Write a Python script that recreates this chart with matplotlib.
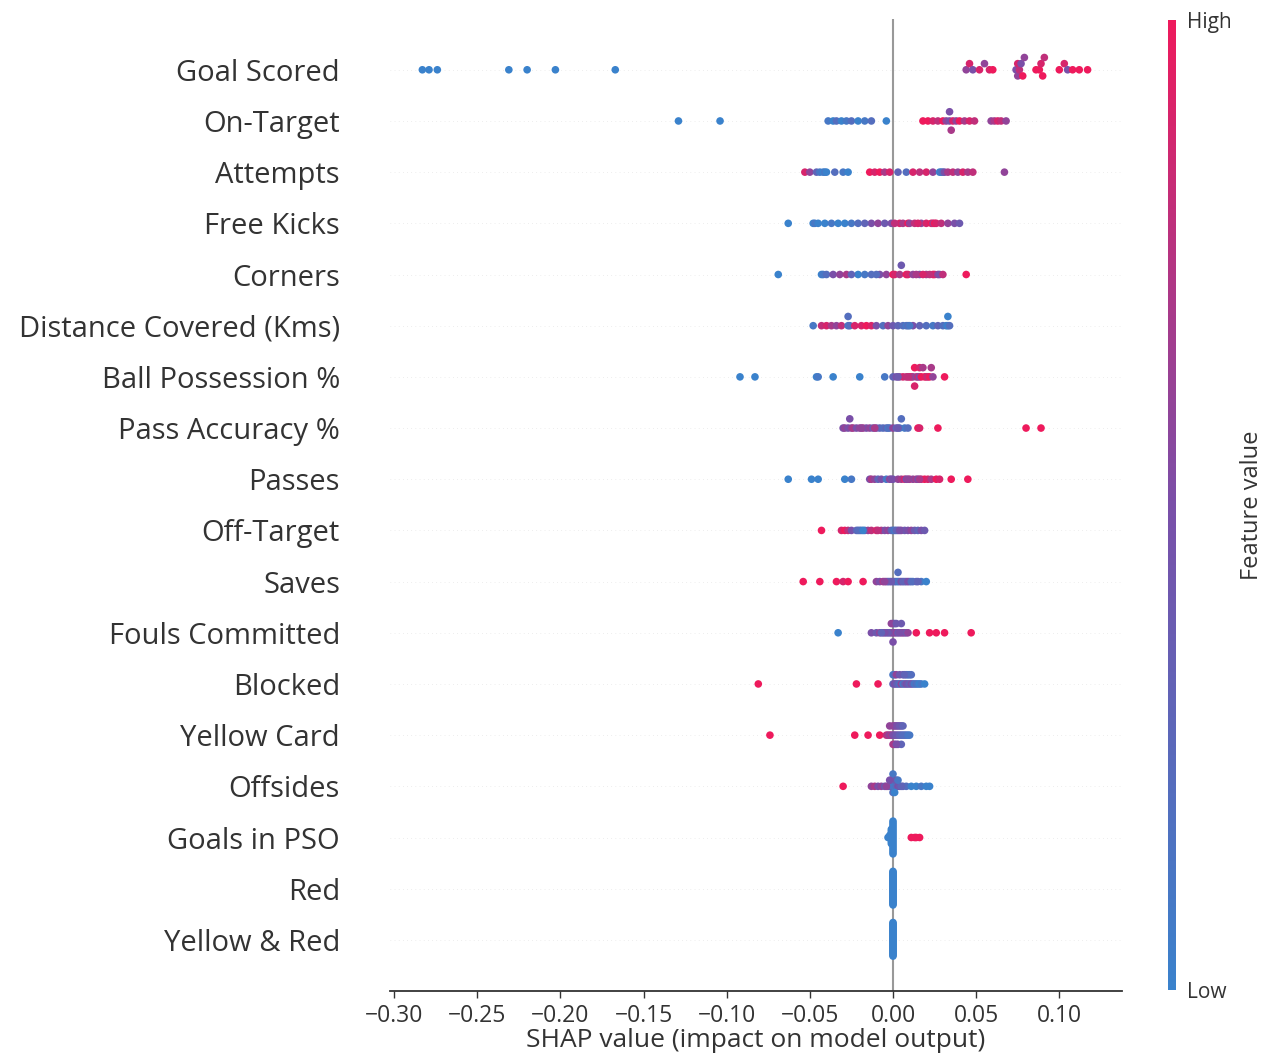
import numpy as np
import matplotlib
matplotlib.use("Agg")
import matplotlib.pyplot as plt
from matplotlib.colors import LinearSegmentedColormap
from matplotlib.cm import ScalarMappable
from matplotlib.colors import Normalize

# ---------------- data ----------------
features = ["Goal Scored", "On-Target", "Attempts", "Free Kicks", "Corners",
            "Distance Covered (Kms)", "Ball Possession %", "Pass Accuracy %",
            "Passes", "Off-Target", "Saves", "Fouls Committed", "Blocked",
            "Yellow Card", "Offsides", "Goals in PSO", "Red", "Yellow & Red"]

goal_scored_shap = [-0.283, -0.279, -0.274, -0.231, -0.220, -0.203, -0.167,
                    0.044, 0.046, 0.048, 0.052, 0.055, 0.058, 0.060,
                    0.074, 0.075, 0.075, 0.076, 0.077, 0.078, 0.079,
                    0.086, 0.088, 0.089, 0.090, 0.091,
                    0.100, 0.103, 0.105, 0.108, 0.112, 0.117]
goal_scored_val = [0, 0, 0, 0, 0, 0, 0,
                   0.6, 0.9, 0.5, 0.9, 0.6, 0.9, 1,
                   0.5, 0.9, 0.6, 0.8, 0.5, 1, 0.6,
                   1, 1, 0.9, 1, 0.8,
                   1, 0.9, 0.5, 1, 1, 1]

on_target_shap = [-0.129, -0.104,
                  -0.039, -0.036, -0.034, -0.031, -0.028, -0.025, -0.021, -0.017, -0.013, -0.004,
                  0.018, 0.021, 0.024, 0.027, 0.030, 0.032, 0.034, 0.036, 0.038, 0.040, 0.043, 0.046, 0.049,
                  0.059, 0.061, 0.063, 0.065, 0.068, 0.034, 0.035]
on_target_val = [0, 0,
                 0.1, 0, 0.2, 0, 0.1, 0.2, 0, 0.1, 0.2, 0,
                 1, 1, 0.9, 0.8, 1, 0.6, 0.5, 0.9, 0.6, 1, 0.7, 0.9, 0.8,
                 0.6, 0.7, 0.9, 0.8, 0.6, 0.5, 0.7]

attempts_shap = [-0.053, -0.050, -0.046, -0.044, -0.042, -0.041, -0.040, -0.035, -0.030, -0.027,
                 -0.014, -0.011, -0.008, -0.005, -0.002, 0.003, 0.008,
                 0.020, 0.024, 0.028, 0.029, 0.030, 0.031, 0.033, 0.036, 0.039, 0.042, 0.045, 0.048,
                 0.067, 0.012, 0.016]
attempts_val = [0.9, 0.6, 0.3, 0.1, 0, 0.1, 0, 0.2, 0.1, 0,
                1, 0.9, 1, 0.7, 0.9, 0.3, 0.2,
                0.9, 0.6, 0, 0.1, 0.2, 0.5, 0.7, 0.8, 0.6, 0.9, 0.7, 0.8,
                0.6, 0.9, 0.8]

free_kicks_shap = [-0.063, -0.048, -0.047, -0.045, -0.041, -0.037, -0.033, -0.029, -0.025, -0.021,
                   -0.013, -0.009, -0.005, -0.001,
                   0.004, 0.006, 0.009, 0.010, 0.013, 0.017, 0.020, 0.023, 0.024, 0.025, 0.026,
                   0.029, 0.033, 0.037, 0.040, -0.017, 0.001, 0.015]
free_kicks_val = [0, 0, 0.1, 0, 0, 0.1, 0, 0, 0.1, 0.2,
                  0.5, 0.6, 0.4, 0.5,
                  0.9, 0.7, 1, 0.6, 0.8, 0.6, 0.9, 1, 0.7, 1, 0.9,
                  0.8, 0.6, 0.5, 0.4, 0.3, 0.8, 0.9]

corners_shap = [-0.069, -0.043, -0.042, -0.040, -0.036, -0.032, -0.028,
                -0.021, -0.017, -0.013,
                -0.008, -0.004, 0.000, 0.001, 0.004, 0.008, 0.009,
                0.012, 0.016, 0.020,
                0.024, 0.025, 0.027, 0.028, 0.030, 0.044,
                -0.025, 0.005, 0.014, 0.022, -0.010, 0.018]
corners_val = [0, 0, 0.1, 0.2, 0.5, 0.6, 0.7,
               0, 0.1, 0.2,
               0.5, 0.6, 1, 0.9, 0.7, 1, 0.9,
               0.6, 0.5, 0.7,
               1, 0.9, 0.6, 0.5, 0.8, 1,
               0.3, 0.4, 0.7, 0.8, 0.2, 0.9]

distance_shap = [-0.048, -0.043, -0.040, -0.037, -0.034, -0.031, -0.027, -0.026, -0.023, -0.019,
                 -0.016, -0.013, -0.010, -0.006, -0.003,
                 0.000, 0.003, 0.006, 0.008, 0.009, 0.012, 0.016, 0.020, 0.024, 0.027, 0.030,
                 0.032, 0.033, 0.034, -0.027, 0.010, 0.033]
distance_val = [0.1, 0.8, 0.9, 0.7, 0.6, 0.8, 0.1, 0.2, 0.9, 0.9,
                1, 0.9, 0.5, 0.2, 0.6,
                0.4, 0.3, 0.2, 0.1, 0.2, 0.5, 0.3, 0.2, 0.1, 0.3, 0.2,
                0.1, 0.0, 0.2, 0.2, 0.1, 0.0]

possession_shap = [-0.092, -0.083, -0.046, -0.045, -0.036, -0.020, -0.005,
                   0.000, 0.002, 0.004, 0.006, 0.008, 0.010, 0.011, 0.012, 0.013, 0.014, 0.015,
                   0.016, 0.016, 0.017, 0.018, 0.019, 0.020, 0.021, 0.022, 0.023, 0.024,
                   0.031, 0.009, 0.003, 0.013]
possession_val = [0, 0, 0, 0.1, 0, 0, 0.1,
                  0.3, 0.5, 0.6, 0.9, 0.8, 1, 0.9, 0.7, 1, 0.6, 0.8,
                  0.5, 0.9, 1, 0.7, 1, 0.9, 0.8, 1, 0.7, 0.6,
                  1, 0.8, 0.4, 0.9]

pass_acc_shap = [-0.030, -0.029, -0.027, -0.025, -0.024, -0.022, -0.020, -0.018, -0.016, -0.014,
                 -0.012, -0.010, -0.008, -0.006, -0.004, -0.003, -0.002,
                 0.000, 0.002, 0.004, 0.005, 0.007, 0.009, 0.015, 0.016, 0.027,
                 0.080, 0.089, -0.019, -0.011, 0.003, -0.026]
pass_acc_val = [0.5, 0.6, 0.5, 0.6, 0.7, 0.5, 0.6, 0.7, 0.5, 0.6,
                0.4, 0.5, 0.3, 0.2, 0.3, 0.1, 0.2,
                0.6, 0.3, 0.1, 0.2, 0.1, 0.2, 1, 0.9, 1,
                1, 1, 0.6, 0.7, 0.4, 0.5]

passes_shap = [-0.063, -0.049, -0.045, -0.029, -0.025,
               -0.014, -0.013, -0.011, -0.009, -0.007, -0.004, -0.002, 0.000,
               0.003, 0.005, 0.007, 0.008, 0.010, 0.012, 0.014, 0.015, 0.017, 0.019, 0.021,
               0.023, 0.026, 0.028, 0.035, 0.045, -0.001, 0.009, 0.016]
passes_val = [0, 0, 0, 0, 0.1,
              0.5, 0.7, 0.6, 0.3, 0.5, 0.1, 0.6, 0.4,
              0.6, 0.7, 0.9, 0.5, 0.8, 0.6, 0.7, 0.5, 0.8, 1, 0.9,
              0.7, 1, 0.9, 1, 1, 0.5, 0.6, 0.7]

off_target_shap = [-0.043, -0.031, -0.029, -0.027, -0.025, -0.022, -0.020, -0.019, -0.017, -0.015,
                   -0.013, -0.010, -0.007, -0.005, -0.003, -0.001, 0.000, 0.001,
                   0.003, 0.005, 0.007, 0.009, 0.011, 0.013, 0.015, 0.017, 0.019,
                   -0.021, -0.018, 0.002, 0.004, -0.009]
off_target_val = [1, 0.9, 1, 0.8, 0.5, 0.3, 0.1, 0.2, 0.1, 0.6,
                  0.8, 0.9, 0.7, 0.5, 0.6, 0.3, 0.2, 0.1,
                  0.5, 0.6, 0.4, 0.5, 0.6, 0.4, 0.3, 0.5, 0.4,
                  0.2, 0.0, 0.3, 0.5, 0.8]

saves_shap = [-0.054, -0.044, -0.034, -0.030, -0.027, -0.018,
              -0.010, -0.008, -0.006, -0.004, -0.003, -0.002, 0.000, 0.001, 0.002, 0.003,
              0.004, 0.005, 0.006, 0.008, 0.010, 0.012, 0.014, 0.017, 0.020,
              -0.001, 0.003, 0.007, 0.009, -0.005, 0.011, 0.015]
saves_val = [1, 1, 1, 0.9, 1, 1,
             0.6, 0.5, 0.7, 0.5, 0.4, 0.3, 0.4, 0.2, 0.3, 0.1,
             0.2, 0.5, 0.3, 0.4, 0.2, 0.1, 0.3, 0.1, 0.0,
             0.4, 0.2, 0.3, 0.5, 0.6, 0.2, 0.3]

fouls_shap = [-0.033, -0.013, -0.010, -0.008, -0.006, -0.004, -0.002, -0.001, 0.000, 0.000,
              0.001, 0.002, 0.003, 0.005, 0.006, 0.007, 0.008,
              0.014, 0.022, 0.026, 0.031, 0.047,
              -0.003, -0.005, 0.001, 0.004, -0.001, 0.002, 0.000, 0.009, -0.007, 0.005]
fouls_val = [0, 0.5, 0.4, 0.6, 0.5, 0.3, 0.5, 0.4, 0.6, 0.3,
             0.5, 0.6, 0.4, 0.7, 0.5, 0.6, 0.4,
             1, 1, 1, 1, 1,
             0.4, 0.5, 0.3, 0.5, 0.6, 0.4, 0.5, 0.6, 0.3, 0.4]

blocked_shap = [-0.081, -0.022, -0.009,
                0.000, 0.000, 0.001, 0.001, 0.002, 0.003, 0.004, 0.005, 0.006, 0.006,
                0.007, 0.008, 0.008, 0.009, 0.009, 0.010, 0.010, 0.011, 0.012, 0.013,
                0.014, 0.015, 0.016, 0.017, 0.019, 0.002, 0.004, 0.007, 0.011]
blocked_val = [1, 1, 1,
               0.3, 0.1, 0.5, 0.2, 0.4, 0.3, 0.2, 0.6, 0.1, 0.4,
               0.3, 0.5, 0.2, 0.4, 0.1, 0.3, 0.2, 0.5, 0.3, 0.1,
               0.2, 0.1, 0.0, 0.1, 0.0, 0.6, 0.4, 0.3, 0.2]

yellow_shap = [-0.074, -0.023, -0.015, -0.008,
               -0.004, -0.003, -0.002, -0.001, 0.000, 0.000, 0.001, 0.001, 0.002, 0.002,
               0.003, 0.003, 0.004, 0.004, 0.005, 0.005, 0.006, 0.006, 0.007, 0.008, 0.009, 0.010,
               -0.002, 0.001, 0.003, 0.005, 0.000, 0.002]
yellow_val = [1, 1, 1, 1,
              0.8, 0.7, 0.6, 0.7, 0.5, 0.6, 0.5, 0.6, 0.4, 0.5,
              0.4, 0.5, 0.3, 0.4, 0.3, 0.4, 0.2, 0.3, 0.2, 0.2, 0.1, 0.1,
              0.6, 0.5, 0.4, 0.3, 0.7, 0.5]

offsides_shap = [-0.030, -0.013, -0.011, -0.009, -0.007, -0.005, -0.003, -0.002, -0.001,
                 0.000, 0.000, 0.000, 0.001, 0.001, 0.002, 0.003, 0.004, 0.006, 0.008,
                 0.011, 0.014, 0.017, 0.020, 0.022,
                 -0.001, 0.000, 0.002, -0.004, 0.005, 0.001, -0.002, 0.003]
offsides_val = [1, 0.6, 0.7, 0.5, 0.6, 0.4, 0.5, 0.3, 0.4,
                0.1, 0.0, 0.2, 0.1, 0.3, 0.2, 0.5, 0.4, 0.3, 0.2,
                0.0, 0.0, 0.1, 0.0, 0.0,
                0.2, 0.1, 0.4, 0.6, 0.3, 0.0, 0.5, 0.1]

pso_shap = [-0.003, -0.002, -0.002] + [-0.001] * 8 + [0.000] * 17 + [0.011, 0.013, 0.014, 0.016]
pso_val = [0.0] * 28 + [1, 1, 1, 1]

red_shap = [0.0] * 32
red_val = [0.0] * 32

yellow_red_shap = [0.0] * 32
yellow_red_val = [0.0] * 32

shap_rows = [goal_scored_shap, on_target_shap, attempts_shap, free_kicks_shap, corners_shap,
             distance_shap, possession_shap, pass_acc_shap, passes_shap, off_target_shap,
             saves_shap, fouls_shap, blocked_shap, yellow_shap, offsides_shap, pso_shap,
             red_shap, yellow_red_shap]
value_rows = [goal_scored_val, on_target_val, attempts_val, free_kicks_val, corners_val,
              distance_val, possession_val, pass_acc_val, passes_val, off_target_val,
              saves_val, fouls_val, blocked_val, yellow_val, offsides_val, pso_val,
              red_val, yellow_red_val]

tick_values = [-0.30, -0.25, -0.20, -0.15, -0.10, -0.05, 0.00, 0.05, 0.10]
tick_labels = ["\u22120.30", "\u22120.25", "\u22120.20", "\u22120.15", "\u22120.10",
               "\u22120.05", "0.00", "0.05", "0.10"]


# ---------------- layout helper (shap-style beeswarm) ----------------
def swarm_offsets(shaps, nbins=100, row_height=0.4):
    shaps = np.asarray(shaps, float)
    n = len(shaps)
    quant = np.round(nbins * (shaps - shaps.min()) / (shaps.max() - shaps.min() + 1e-8))
    inds = np.argsort(quant, kind="stable")
    layer = 0
    last_bin = -1
    ys = np.zeros(n)
    for ind in inds:
        if quant[ind] != last_bin:
            layer = 0
        ys[ind] = np.ceil(layer / 2) * ((layer % 2) * 2 - 1)
        layer += 1
        last_bin = quant[ind]
    ys *= 0.9 * (row_height / np.max(ys + 1))
    return ys


plt.rcParams['font.family'] = ['Open Sans', 'DejaVu Sans']
cmap = LinearSegmentedColormap.from_list("shap_rb", ["#3a82cc", "#7a4fa8", "#ee1a5c"])
axis_color = "#333333"

fig = plt.figure(figsize=(12.66, 10.57), dpi=100)
ax = fig.add_axes([0.308, 0.0624, 0.578, 0.920])

n = len(features)
for i, (name, sv, fv) in enumerate(zip(features, shap_rows, value_rows)):
    pos = n - 1 - i
    ax.axhline(pos, color="#dddddd", lw=0.5, dashes=(1, 5), zorder=-1)
    ys = swarm_offsets(sv)
    ax.scatter(sv, pos + ys, c=fv, cmap=cmap, vmin=0, vmax=1, s=30,
               linewidths=0, zorder=3)

ax.axvline(0, color="#999999", lw=1.5, zorder=-1)

ax.set_xlim(-0.3025, 0.1375)
ax.set_ylim(-1, n)
ax.set_yticks(range(n))
ax.set_yticklabels(features[::-1], fontsize=21, color=axis_color)
ax.yaxis.set_ticks_position('none')
ax.tick_params('y', length=0, pad=36)
ax.set_xticks(tick_values)
ax.set_xticklabels(tick_labels, fontsize=16.5, color=axis_color)
ax.tick_params('x', length=5, width=1, color=axis_color, pad=4)
ax.xaxis.set_ticks_position('bottom')
for sp in ['top', 'right', 'left']:
    ax.spines[sp].set_visible(False)
ax.spines['bottom'].set_color(axis_color)
ax.spines['bottom'].set_linewidth(1.3)
ax.set_xlabel("SHAP value (impact on model output)", fontsize=19, color=axis_color, labelpad=0)

cax = fig.add_axes([1168 / 1266, 0.0634, 8 / 1266, 0.918])
sm = ScalarMappable(norm=Normalize(0, 1), cmap=cmap)
cb = fig.colorbar(sm, cax=cax, ticks=[0, 1])
cb.set_ticklabels(["Low", "High"])
cb.outline.set_visible(False)
cax.tick_params(length=0, labelsize=15, pad=8, colors=axis_color)
cb.set_label("Feature value", size=17, labelpad=6, color=axis_color)

fig.savefig("out.png", dpi=100)
